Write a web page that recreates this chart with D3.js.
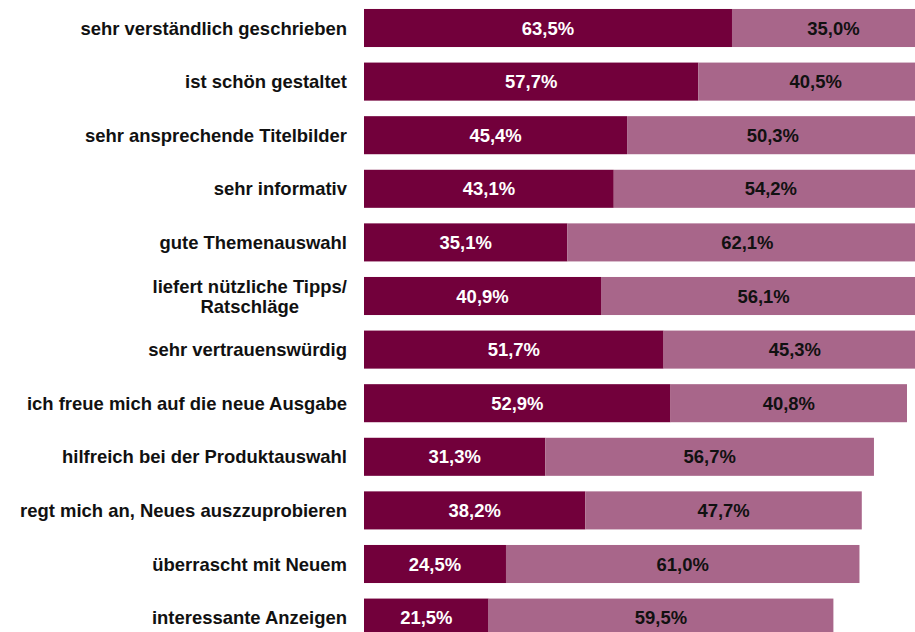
<!DOCTYPE html>
<html><head><meta charset="utf-8">
<script src="https://cdn.jsdelivr.net/npm/d3@7"></script>
<style>body{margin:0;background:#fff;overflow:hidden}svg{display:block}</style>
</head><body>
<script>
const categories = [
  "sehr verständlich geschrieben",
  "ist schön gestaltet",
  "sehr ansprechende Titelbilder",
  "sehr informativ",
  "gute Themenauswahl",
  "liefert nützliche Tipps/\nRatschläge",
  "sehr vertrauenswürdig",
  "ich freue mich auf die neue Ausgabe",
  "hilfreich bei der Produktauswahl",
  "regt mich an, Neues auszzuprobieren",
  "überrascht mit Neuem",
  "interessante Anzeigen"
];
const seriesA = [63.5,57.7,45.4,43.1,35.1,40.9,51.7,52.9,31.3,38.2,24.5,21.5];
const seriesB = [35.0,40.5,50.3,54.2,62.1,56.1,45.3,40.8,56.7,47.7,61.0,59.5];
const colors = ["#72003b", "#a8668a"];
const textColors = ["#ffffff", "#111111"];

const W = 915, H = 632;
const svg = d3.select("body").append("svg").attr("width", W).attr("height", H);
const x = d3.scaleLinear().domain([0, 100]).range([364, 364 + 579.5]);
const y = d3.scaleBand().domain(categories).range([1.2, 1.2 + 12 * 53.6])
  .paddingInner(0.29).paddingOuter(0.145);

const fmt = v => v.toFixed(1).replace(".", ",") + "%";
const font = "'Liberation Sans', Arial, sans-serif";
const FS = 17.5, SX = 1.055;

function label(px, py, anchor, fill, txt) {
  return svg.append("text")
    .attr("transform", `translate(${px},${py}) scale(${SX},1)`)
    .attr("dy", "0.38em")
    .attr("text-anchor", anchor)
    .attr("font-family", font).attr("font-weight", "bold").attr("font-size", FS)
    .attr("fill", fill).text(txt);
}

const rows = categories.map((c, i) => ({c, a: seriesA[i], b: seriesB[i]}));
const g = svg.append("g");
rows.forEach(r => {
  const segs = [{x0: 0, x1: r.a, v: r.a, k: 0}, {x0: r.a, x1: r.a + r.b, v: r.b, k: 1}];
  segs.forEach(s => {
    g.append("rect")
      .attr("x", x(s.x0)).attr("y", y(r.c))
      .attr("width", x(s.x1) - x(s.x0)).attr("height", y.bandwidth())
      .attr("fill", colors[s.k]);
  });
  segs.forEach(s => {
    label((x(s.x0) + x(s.x1)) / 2, y(r.c) + y.bandwidth() / 2, "middle", textColors[s.k], fmt(s.v));
  });
});

// category labels
const labelRight = 347;
categories.forEach(c => {
  const lines = c.split("\n");
  const cy = y(c) + y.bandwidth() / 2;
  if (lines.length === 1) {
    label(labelRight, cy, "end", "#111", c);
  } else {
    const tmp = svg.append("text").attr("font-family", font).attr("font-weight", "bold")
      .attr("font-size", FS).text(lines[0]);
    const w = tmp.node().getComputedTextLength() * SX;
    tmp.remove();
    const cx = labelRight - w / 2;
    lines.forEach((l, i) => {
      label(cx, cy + (i - (lines.length - 1) / 2) * 20, "middle", "#111", l);
    });
  }
});
</script>
</body></html>
